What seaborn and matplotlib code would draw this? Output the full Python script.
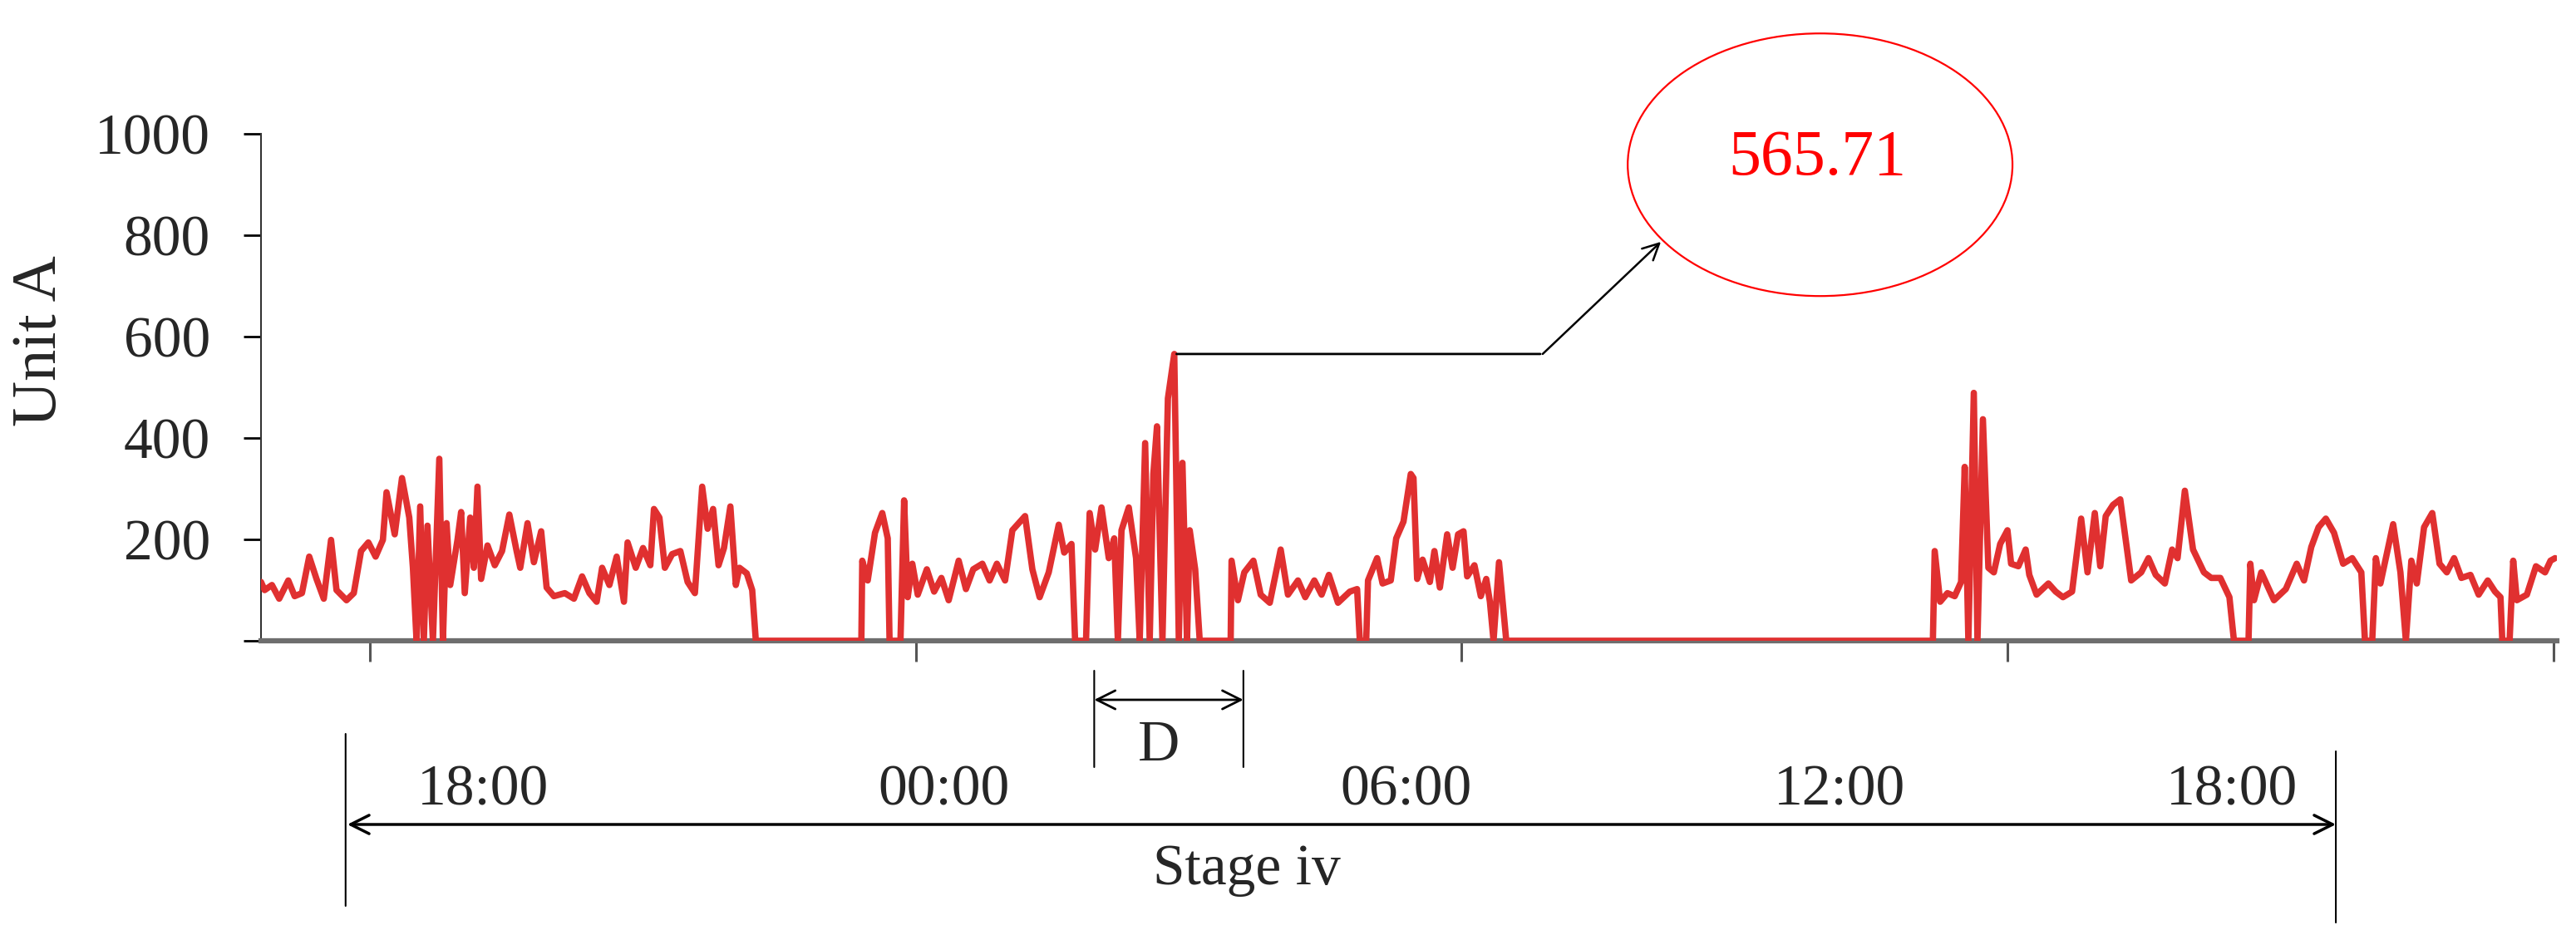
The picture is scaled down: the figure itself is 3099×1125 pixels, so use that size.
import numpy as np
import pandas as pd
import matplotlib
matplotlib.use("Agg")
import matplotlib.pyplot as plt
from matplotlib.patches import Ellipse
from matplotlib.transforms import blended_transform_factory
import seaborn as sns

# clock hours (values past 24 belong to the next day), current in A
evening_h = [16.80, 16.84, 16.92, 17.00, 17.10, 17.17, 17.25, 17.33, 17.41, 17.49,
             17.57, 17.63, 17.74, 17.82, 17.90, 17.98, 18.06, 18.14, 18.18, 18.27,
             18.35, 18.39, 18.43, 18.47, 18.51, 18.55, 18.59, 18.63, 18.69, 18.76,
             18.80, 18.84, 18.88, 18.96, 19.00, 19.04, 19.10, 19.14, 19.18, 19.22,
             19.29, 19.37, 19.45, 19.53, 19.61, 19.65, 19.73, 19.80, 19.88, 19.94,
             20.02, 20.14, 20.24, 20.33, 20.41, 20.49, 20.55, 20.63, 20.71, 20.79,
             20.83, 20.92, 21.00, 21.08, 21.12, 21.18, 21.24, 21.32, 21.41, 21.49,
             21.57, 21.65, 21.71, 21.77, 21.83, 21.89, 21.96, 22.02, 22.06, 22.14,
             22.20, 22.24]
evening_a = [116, 100, 110, 83, 119, 88, 94, 166, 122, 83,
             199, 100, 80, 94, 177, 194, 166, 199, 293, 210,
             321, 282, 243, 144, 0, 265, 0, 227, 0, 359,
             0, 232, 110, 199, 254, 94, 243, 144, 304, 122,
             188, 149, 177, 249, 177, 144, 232, 155, 216, 105,
             88, 94, 83, 127, 94, 77, 144, 110, 166, 77,
             194, 144, 183, 149, 260, 243, 144, 171, 177, 116,
             94, 304, 221, 260, 149, 183, 265, 110, 144, 133,
             100, 0]

night_h = [23.40, 23.41, 23.47, 23.55, 23.63, 23.69, 23.71, 23.83, 23.87, 23.91,
           23.96, 24.02, 24.12, 24.20, 24.28, 24.36, 24.47, 24.55, 24.63, 24.73,
           24.81, 24.89, 24.98, 25.06, 25.20, 25.28, 25.36, 25.46, 25.57, 25.63,
           25.71, 25.75, 25.87, 25.91, 25.97, 26.04, 26.12, 26.18, 26.22, 26.26,
           26.34, 26.42, 26.46, 26.52, 26.57, 26.61, 26.65, 26.71, 26.77, 26.84,
           26.89, 26.93, 26.98, 27.01, 27.07, 27.12, 27.46, 27.47, 27.54, 27.61,
           27.71, 27.79, 27.89, 28.01, 28.09, 28.20, 28.28, 28.38, 28.46, 28.54,
           28.64, 28.77, 28.85, 28.88, 28.95, 28.97, 29.07, 29.13, 29.22, 29.28,
           29.36, 29.44]
night_a = [0, 158, 119, 213, 252, 202, 0, 0, 277, 86,
           152, 91, 141, 97, 124, 80, 158, 102, 141, 152,
           119, 152, 119, 218, 246, 141, 86, 135, 229, 174,
           191, 0, 0, 252, 180, 263, 163, 202, 0, 218,
           263, 163, 0, 390, 0, 329, 423, 0, 478, 565.71,
           0, 351, 0, 218, 141, 0, 0, 158, 80, 135,
           158, 91, 75, 180, 91, 119, 86, 119, 91, 130,
           75, 97, 102, 0, 0, 119, 163, 113, 119, 202,
           235, 329]

morning_h = [29.47, 29.51, 29.57, 29.65, 29.70, 29.76, 29.84, 29.90, 29.96, 30.02,
             30.06, 30.14, 30.21, 30.27, 30.31, 30.35, 30.41, 30.45, 30.49]
morning_a = [321, 122, 160, 116, 177, 105, 210, 144, 210, 216,
             127, 149, 88, 122, 77, 0, 155, 77, 0]

afternoon_h = [35.18, 35.20, 35.26, 35.34, 35.42, 35.49, 35.53, 35.57, 35.63, 35.67,
               35.73, 35.79, 35.85, 35.92, 36.00, 36.04, 36.12, 36.20, 36.24, 36.32,
               36.45, 36.53, 36.61, 36.71, 36.81, 36.88, 36.96, 37.02, 37.08, 37.16,
               37.24, 37.36, 37.47, 37.55, 37.63, 37.73, 37.81, 37.87, 37.95, 38.04,
               38.16, 38.24, 38.34, 38.44, 38.49, 38.65, 38.67, 38.71, 38.79, 38.93,
               39.06, 39.18, 39.26, 39.34, 39.42, 39.50, 39.59, 39.69, 39.79, 39.89,
               39.93, 40.01, 40.05, 40.10, 40.24, 40.32, 40.38, 40.44, 40.50, 40.58,
               40.67, 40.75, 40.83, 40.91, 40.99, 41.09, 41.18, 41.28, 41.36, 41.42,
               41.44, 41.52, 41.56, 41.60, 41.71, 41.81, 41.91, 41.97, 42.02]
afternoon_a = [0, 177, 77, 94, 88, 116, 343, 0, 489, 0,
               437, 144, 135, 191, 218, 152, 147, 180, 130, 91,
               113, 97, 86, 97, 241, 135, 252, 147, 246, 268,
               279, 119, 135, 163, 130, 113, 180, 163, 296, 180,
               135, 124, 124, 86, 0, 0, 152, 80, 135, 80,
               102, 152, 119, 185, 224, 241, 213, 152, 163, 135,
               0, 0, 163, 113, 230, 135, 0, 158, 113, 224,
               252, 152, 135, 163, 124, 130, 91, 119, 97, 86,
               0, 0, 158, 80, 91, 147, 135, 158, 163]

tick_hours = [18, 24, 30, 36, 42]
time_labels = ["18:00", "00:00", "06:00", "12:00", "18:00"]
time_label_x = [19.24, 24.31, 29.39, 34.15, 38.47]
peak_value = 565.71

df = pd.DataFrame({
    "hour": evening_h + night_h + morning_h + afternoon_h,
    "amp": evening_a + night_a + morning_a + afternoon_a,
})

sns.set_style("white")
plt.rcParams["font.family"] = ["Liberation Serif", "DejaVu Serif"]

W, H = 3099, 1125
fig = plt.figure(figsize=(W / 100, H / 100), dpi=100)
ax = fig.add_axes([314 / W, 1 - 771 / H, (3076 - 314) / W, (771 - 161) / H])

sns.lineplot(data=df, x="hour", y="amp", ax=ax, color="#e03030",
             linewidth=5.5, estimator=None, zorder=3)

ax.set_xlim(16.8, 42.04)
ax.set_ylim(0, 1000)
ax.set_xlabel("")
ax.set_ylabel("")

ax.set_yticks([0, 200, 400, 600, 800, 1000])
ax.set_yticklabels(["", "200", "400", "600", "800", "1000"])
ax.set_xticks(tick_hours)
ax.tick_params(axis="y", direction="out", length=15, width=2, pad=29,
               labelsize=50, color="black", left=True)
ax.tick_params(axis="x", direction="out", length=18, width=2.2, color="#555555",
               labelbottom=False, bottom=True)

for s in ["top", "right"]:
    ax.spines[s].set_visible(False)
ax.spines["left"].set_color("#333333")
ax.spines["left"].set_linewidth(1.5)
ax.spines["bottom"].set_color("#6e6e6e")
ax.spines["bottom"].set_linewidth(4.5)

fig.text(48 / W, 1 - 410 / H, "Unit A", rotation=90, ha="center", va="center",
         fontsize=55)

# callout for the peak
peak_hour = df.loc[df["amp"].idxmax(), "hour"]
ax.annotate("", xy=(30.89, peak_value), xytext=(peak_hour, peak_value),
            arrowprops=dict(arrowstyle="-", color="black", lw=2))
ax.annotate("", xy=(32.19, 787), xytext=(30.89, peak_value),
            arrowprops=dict(arrowstyle="->", color="black", lw=1.8,
                            mutation_scale=35, shrinkA=0, shrinkB=0),
            annotation_clip=False)
ax.add_patch(Ellipse((33.94, 939), 4.23, 518, fill=False, edgecolor="#ff0000",
                     lw=1.6, clip_on=False))
ax.text(33.91, 951, f"{peak_value:.2f}", color="#ff0000", fontsize=56,
        ha="center", va="center", clip_on=False)

# time scale below the chart
tr = blended_transform_factory(ax.transData, fig.transFigure)


def fy(ypx):
    return 1 - ypx / H


def seg(x0, y0, x1, y1, style="-", lw=1.5):
    ax.annotate("", xy=(x1, fy(y1)), xytext=(x0, fy(y0)), xycoords=tr,
                textcoords=tr, annotation_clip=False,
                arrowprops=dict(arrowstyle=style, color="black", lw=lw,
                                shrinkA=0, shrinkB=0, mutation_scale=40))


seg(25.96, 807, 25.96, 923)
seg(27.60, 807, 27.60, 923)
seg(25.96, 842, 27.60, 842, style="<->", lw=2)
ax.text(26.67, fy(898), "D", transform=tr, ha="center", va="center", fontsize=50)

for x, lab in zip(time_label_x, time_labels):
    ax.text(x, fy(952), lab, transform=tr, ha="center", va="center", fontsize=50)

seg(17.73, 883, 17.73, 1090)
seg(39.61, 904, 39.61, 1110)
seg(17.75, 992, 39.61, 992, style="<->", lw=2.5)
ax.text(27.64, fy(1047), "Stage iv", transform=tr, ha="center", va="center",
        fontsize=50)

fig.savefig("out.png", dpi=100)
